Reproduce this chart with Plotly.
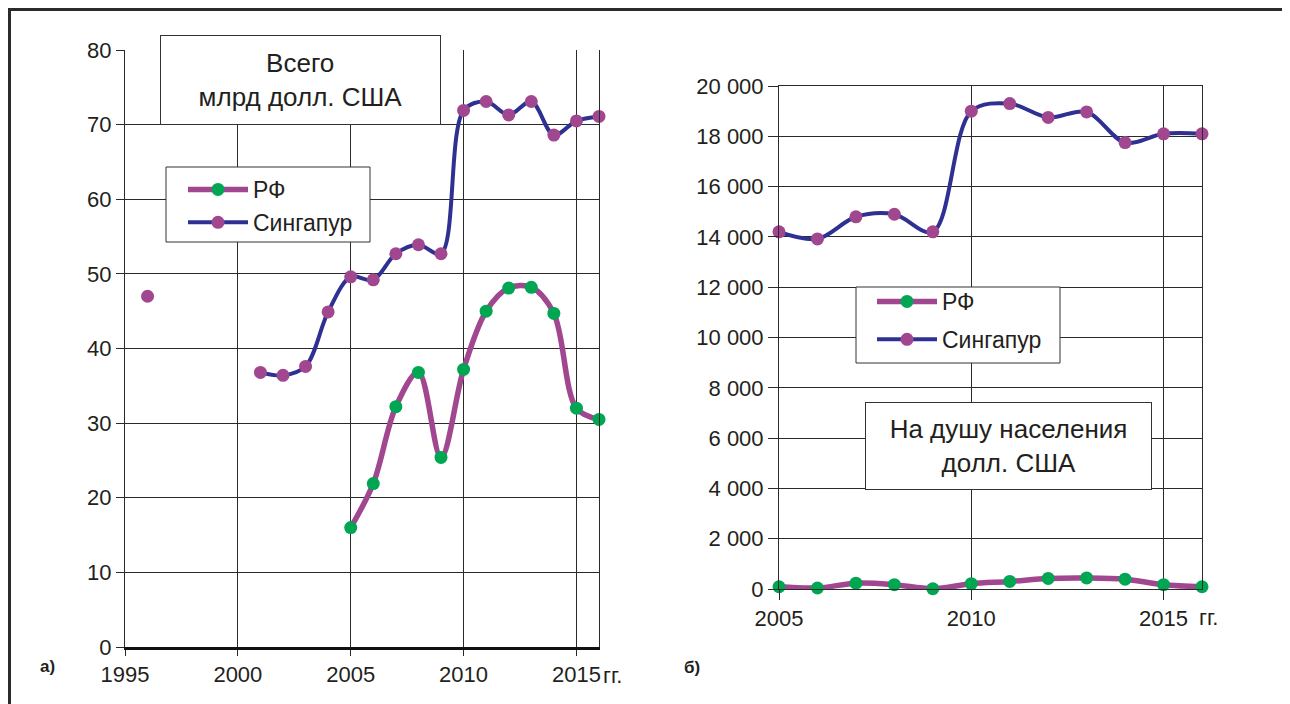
import plotly.graph_objects as go

# ---- data ----
years_total = list(range(1996, 2017))
sing_total = [47.0, None, None, None, None, 36.8, 36.4, 37.6, 44.9, 49.6, 49.2,
              52.7, 53.9, 52.7, 71.9, 73.1, 71.3, 73.1, 68.6, 70.5, 71.1]
rf_years_total = list(range(2005, 2017))
rf_total = [16.0, 21.9, 32.2, 36.8, 25.4, 37.2, 45.0, 48.1, 48.2, 44.7, 32.0, 30.5]

years_pc = list(range(2005, 2017))
sing_pc = [14200, 13920, 14800, 14900, 14200, 19000, 19300, 18750, 18970, 17750, 18100, 18100]
rf_pc = [90, 40, 230, 170, 10, 210, 300, 420, 440, 390, 170, 90]

left_xticks = [1995, 2000, 2005, 2010, 2015]
left_yticks = [0, 10, 20, 30, 40, 50, 60, 70, 80]
right_xticks = [2005, 2010, 2015]
right_yticks = list(range(0, 20001, 2000))
right_yticklabels = ["0"] + [f"{v // 1000} 000" for v in right_yticks[1:]]

title_left = "Всего<br>млрд долл. США"
title_right = "На душу населения<br>долл. США"
name_rf = "РФ"
name_sg = "Сингапур"

# ---- style ----
FONT = "Liberation Sans, Arial, sans-serif"
C_RF_LINE = "#A1478F"
C_RF_MARK = "#00A651"
C_SG_LINE = "#2E3192"
C_SG_MARK = "#A1478F"
GRID = "#2a2a2a"
TXT = "#231F20"
OFF = 8                      # page body margin
W, H = 1290 - OFF, 704 - OFF

def px_x(p):
    return (p - OFF) / W

def px_y(p):
    return 1 - (p - OFF) / H

fig = go.Figure()

def add_series(x, y, name, line_color, line_width, mark_color, xa, ya, leg, grp):
    fig.add_trace(go.Scatter(x=x, y=y, name=name, mode="lines+markers",
                             line=dict(color=line_color, width=line_width, shape="spline", smoothing=0.95),
                             marker=dict(color=mark_color, size=13), connectgaps=False,
                             cliponaxis=False, xaxis=xa, yaxis=ya, legend=leg, legendgroup=grp))

add_series(rf_years_total, rf_total, name_rf, C_RF_LINE, 5.5, C_RF_MARK, "x", "y", "legend", "a_rf")
add_series(years_total, sing_total, name_sg, C_SG_LINE, 4, C_SG_MARK, "x", "y", "legend", "a_sg")
add_series(years_pc, rf_pc, name_rf, C_RF_LINE, 5.5, C_RF_MARK, "x2", "y2", "legend2", "b_rf")
add_series(years_pc, sing_pc, name_sg, C_SG_LINE, 4, C_SG_MARK, "x2", "y2", "legend2", "b_sg")

def axis(**kw):
    d = dict(showgrid=True, gridcolor=GRID, gridwidth=1, zeroline=False, automargin=False,
             ticks="outside", tickcolor=GRID, tickwidth=1,
             tickfont=dict(family=FONT, size=22, color=TXT),
             showline=True, linecolor=GRID, linewidth=1)
    d.update(kw)
    return d

def legend_box(x, y, gap):
    return dict(x=px_x(x), y=px_y(y), xanchor="left", yanchor="top",
                bgcolor="rgba(0,0,0,0)", borderwidth=0,
                font=dict(family=FONT, size=23, color=TXT), itemwidth=60,
                tracegroupgap=gap, traceorder="grouped")

fig.update_layout(
    template="none",
    width=W, height=H,
    margin=dict(l=0, r=0, t=0, b=0, pad=0),
    paper_bgcolor="white", plot_bgcolor="white",
    font=dict(family=FONT, color=TXT),
    xaxis=axis(domain=[px_x(125), px_x(599)], range=[1995, 2016], tickvals=left_xticks,
               ticklen=6, linewidth=2.5, linecolor="#111111", mirror=False, anchor="y"),
    yaxis=axis(domain=[px_y(647), px_y(50)], range=[0, 80], tickvals=left_yticks,
               ticklen=8, mirror=True, anchor="x"),
    xaxis2=axis(domain=[px_x(779), px_x(1202)], range=[2005, 2016], tickvals=right_xticks,
                ticklen=10, mirror=True, anchor="y2"),
    yaxis2=axis(domain=[px_y(589), px_y(86)], range=[0, 20000], tickvals=right_yticks,
                ticktext=right_yticklabels, ticklen=10, mirror=True, anchor="x2"),
    legend=legend_box(183, 168, 0),
    legend2=legend_box(872, 280, 5),
    showlegend=True,
)

# legend frames
for (x0, x1, y0, y1) in [(166, 370, 167, 242), (856, 1060, 287, 363)]:
    fig.add_shape(type="rect", xref="paper", yref="paper", layer="above",
                  x0=px_x(x0), x1=px_x(x1), y0=px_y(y1), y1=px_y(y0),
                  fillcolor="white", line=dict(color="#333333", width=1))

annotations = [
    dict(text=title_left, x=px_x(300.5), y=px_y(80), xref="paper", yref="paper",
         xanchor="center", yanchor="middle",
         showarrow=False, font=dict(family=FONT, size=26, color=TXT),
         bgcolor="white", bordercolor="#333333", borderwidth=1, borderpad=0,
         width=279, height=88, align="center"),
    dict(text=title_right, x=px_x(1008.5), y=px_y(446), xref="paper", yref="paper",
         xanchor="center", yanchor="middle",
         showarrow=False, font=dict(family=FONT, size=26, color=TXT),
         bgcolor="white", bordercolor="#333333", borderwidth=1, borderpad=0,
         width=285, height=86, align="center"),
    dict(text="гг.", x=px_x(601), y=px_y(675), xref="paper", yref="paper",
         xanchor="left", yanchor="middle",
         showarrow=False, font=dict(family=FONT, size=22, color=TXT)),
    dict(text="гг.", x=px_x(1197), y=px_y(617), xref="paper", yref="paper",
         xanchor="left", yanchor="middle",
         showarrow=False, font=dict(family=FONT, size=22, color=TXT)),
    dict(text="<b>а)</b>", x=px_x(47), y=px_y(666), xref="paper", yref="paper",
         xanchor="center", yanchor="middle",
         showarrow=False, font=dict(family="Liberation Sans Narrow, " + FONT, size=17, color=TXT)),
    dict(text="<b>б)</b>", x=px_x(692), y=px_y(667), xref="paper", yref="paper",
         xanchor="center", yanchor="middle",
         showarrow=False, font=dict(family="Liberation Sans Narrow, " + FONT, size=17, color=TXT)),
]
fig.update_layout(annotations=annotations)

# outer frame
fig.add_shape(type="line", xref="paper", yref="paper", x0=px_x(8), x1=1, y0=px_y(9.5), y1=px_y(9.5),
              line=dict(color="#2B2B2B", width=3))
fig.add_shape(type="line", xref="paper", yref="paper", x0=px_x(9.5), x1=px_x(9.5), y0=px_y(8), y1=0,
              line=dict(color="#2B2B2B", width=3))

fig.write_html("out.html")
